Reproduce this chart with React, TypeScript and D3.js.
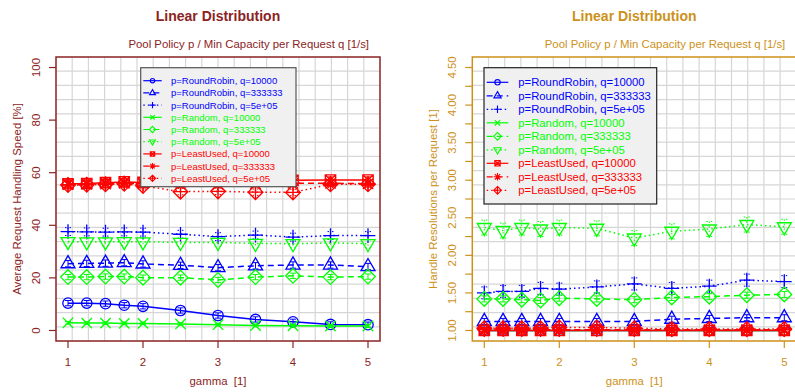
import React from "react";
import * as d3 from "d3";

const gamma = [1, 1.25, 1.5, 1.75, 2, 2.5, 3, 3.5, 4, 4.5, 5];

const seriesLabels = [
  "p=RoundRobin, q=10000",
  "p=RoundRobin, q=333333",
  "p=RoundRobin, q=5e+05",
  "p=Random, q=10000",
  "p=Random, q=333333",
  "p=Random, q=5e+05",
  "p=LeastUsed, q=10000",
  "p=LeastUsed, q=333333",
  "p=LeastUsed, q=5e+05",
];
const policyColors = ["#0000ff", "#00ff00", "#ff0000"];
const qDashes = ["", "6,4", "1.5,3"];

// left panel: average request handling speed [%]
const speedRR10000 = [10.4, 10.4, 10.2, 9.6, 9.2, 7.6, 5.7, 4.2, 3.3, 2.3, 2.2];
const speedRR333333 = [25.4, 25.5, 25.6, 25.8, 25.3, 24.8, 23.9, 24.6, 24.9, 24.9, 24.3];
const speedRR5e5 = [37.6, 37.5, 37.4, 37.5, 37.4, 36.6, 35.7, 36.3, 35.5, 36.1, 36.1];
const speedRand10000 = [2.9, 2.8, 2.8, 2.7, 2.7, 2.5, 2.2, 1.9, 1.8, 1.7, 1.7];
const speedRand333333 = [20.3, 20.3, 20.5, 20.5, 20.1, 20.1, 19.2, 20.3, 20.8, 20.3, 20.5];
const speedRand5e5 = [33.8, 33.7, 33.7, 33.8, 33.7, 33.5, 33.5, 33.1, 33.0, 33.3, 33.0];
const speedLU10000 = [55.8, 55.9, 56.2, 56.5, 56.3, 56.6, 56.8, 57.0, 57.1, 57.2, 57.2];
const speedLU333333 = [55.5, 55.6, 55.7, 56.0, 55.8, 55.5, 55.6, 55.8, 56.0, 56.0, 55.8];
const speedLU5e5 = [55.3, 55.4, 55.6, 55.8, 55.0, 52.8, 52.9, 52.6, 52.5, 55.6, 55.6];
const speedErr = [1.0, 1.2, 1.5, 0.5, 1.0, 1.5, 1.2, 1.2, 1.2];

// right panel: handle resolutions per request [1]
const resRR10000 = [1.0, 1.0, 1.0, 1.0, 1.0, 1.0, 1.0, 1.0, 1.0, 1.0, 1.0];
const resRR333333 = [1.12, 1.12, 1.12, 1.12, 1.12, 1.12, 1.12, 1.15, 1.16, 1.17, 1.17];
const resRR5e5 = [1.5, 1.52, 1.52, 1.56, 1.55, 1.58, 1.62, 1.56, 1.59, 1.67, 1.65];
const resRand10000 = [1.0, 1.0, 1.0, 1.0, 1.0, 1.0, 1.0, 1.0, 1.0, 1.0, 1.0];
const resRand333333 = [1.42, 1.42, 1.41, 1.4, 1.43, 1.42, 1.41, 1.44, 1.45, 1.47, 1.48];
const resRand5e5 = [2.37, 2.33, 2.37, 2.35, 2.37, 2.36, 2.23, 2.32, 2.35, 2.41, 2.38];
const resLU10000 = [1.0, 1.0, 1.0, 1.0, 1.0, 1.0, 1.0, 1.0, 1.0, 1.0, 1.0];
const resLU333333 = [1.01, 1.01, 1.01, 1.01, 1.01, 1.01, 1.01, 1.01, 1.01, 1.01, 1.01];
const resLU5e5 = [1.03, 1.03, 1.03, 1.03, 1.04, 1.04, 1.03, 1.02, 1.02, 1.02, 1.02];
const resErr = [0.02, 0.04, 0.08, 0.02, 0.04, 0.1, 0.02, 0.03, 0.04];

const leftTicks = [0, 20, 40, 60, 80, 100];
const rightTicks = [1, 1.25, 1.5, 1.75, 2, 2.25, 2.5, 2.75, 3, 3.25, 3.5, 3.75, 4, 4.25, 4.5];
const xTicks = [1, 2, 3, 4, 5];

const FONT = "'Liberation Sans', Arial, Helvetica, sans-serif";

function Marker({ pch, cx, cy, r, color, sw }: any) {
  const s2 = Math.SQRT2 * r;
  const st = { fill: "none", stroke: color, strokeWidth: sw };
  const t = 1.555 * r, h = 1.347 * r, b = 0.778 * r;
  const plus = (a: number) => `M${cx - a},${cy}H${cx + a}M${cx},${cy - a}V${cy + a}`;
  const cross = (a: number) => `M${cx - a},${cy - a}L${cx + a},${cy + a}M${cx - a},${cy + a}L${cx + a},${cy - a}`;
  const diamond = (a: number) => `M${cx},${cy - a}L${cx + a},${cy}L${cx},${cy + a}L${cx - a},${cy}Z`;
  switch (pch) {
    case 1:
      return <circle cx={cx} cy={cy} r={r} {...st} />;
    case 2:
      return <path d={`M${cx},${cy - t}L${cx + h},${cy + b}L${cx - h},${cy + b}Z`} {...st} />;
    case 3:
      return <path d={plus(s2)} {...st} />;
    case 4:
      return <path d={cross(r)} {...st} />;
    case 5:
      return <path d={diamond(s2)} {...st} />;
    case 6:
      return <path d={`M${cx},${cy + t}L${cx + h},${cy - b}L${cx - h},${cy - b}Z`} {...st} />;
    case 7:
      return <path d={`M${cx - r},${cy - r}H${cx + r}V${cy + r}H${cx - r}Z` + cross(r)} {...st} />;
    case 8:
      return <path d={cross(r) + plus(s2)} {...st} />;
    default:
      return <path d={diamond(s2) + plus(s2)} {...st} />;
  }
}

function Panel(props: any) {
  const { x0, x1, theme, yDomain, ticks, tickLabel, fmt, yLabel, series, errs, legend } = props;
  const y0 = 57;
  const y1 = 341;
  const x = d3.scaleLinear().domain([0.84, 5.16]).range([x0, x1]);
  const y = d3.scaleLinear().domain(yDomain).range([y1, y0]);
  const line = d3
    .line<number>()
    .x((_, i) => x(gamma[i]))
    .y((d) => y(d));
  const gw = (x1 - x0) / 20;
  const gh = (y1 - y0) / 20;
  const mid = (x0 + x1) / 2;

  return (
    <g fontFamily={FONT}>
      <text x={mid} y={20.5} textAnchor="middle" fontSize={14} fontWeight="bold" fill={theme}>
        Linear Distribution
      </text>
      <text x={x(5) + 1} y={47.5} textAnchor="end" fontSize={11.4} fill={theme}>
        Pool Policy p / Min Capacity per Request q [1/s]
      </text>

      {d3.range(1, 20).map((i) => (
        <line key={"gv" + i} x1={x0 + i * gw} x2={x0 + i * gw} y1={y0} y2={y1} stroke="#d6d6d6" strokeWidth={1.2} />
      ))}
      {d3.range(1, 20).map((i) => (
        <line key={"gh" + i} x1={x0} x2={x1} y1={y0 + i * gh} y2={y0 + i * gh} stroke="#d6d6d6" strokeWidth={1.2} />
      ))}

      {series.map((vals: number[], s: number) => {
        const color = policyColors[Math.floor(s / 3)];
        const dash = qDashes[s % 3];
        return (
          <g key={"s" + s}>
            <path d={line(vals) || ""} fill="none" stroke={color} strokeWidth={1.5} strokeDasharray={dash} />
            {vals.map((v, i) => {
              const cx = x(gamma[i]);
              const ya = y(v + errs[s]);
              const yb = y(v - errs[s]);
              return (
                <g key={i}>
                  <path
                    d={`M${cx},${ya}V${yb}M${cx - 3},${ya}H${cx + 3}M${cx - 3},${yb}H${cx + 3}`}
                    stroke={color}
                    strokeWidth={1}
                    strokeDasharray={dash}
                    fill="none"
                  />
                  <Marker pch={s + 1} cx={cx} cy={y(v)} r={5.2} color={color} sw={1.3} />
                </g>
              );
            })}
          </g>
        );
      })}

      <rect x={x0} y={y0} width={x1 - x0} height={y1 - y0} fill="none" stroke={theme} strokeWidth={1.5} />

      {xTicks.map((t) => (
        <g key={"xt" + t}>
          <line x1={x(t)} x2={x(t)} y1={y1} y2={y1 + 7} stroke={theme} strokeWidth={1.2} />
          <text x={x(t)} y={366} textAnchor="middle" fontSize={11.4} fill={theme}>
            {t}
          </text>
        </g>
      ))}
      <text x={mid} y={385} textAnchor="middle" fontSize={11.4} fill={theme}>
        {"gamma\u00a0 [1]"}
      </text>

      {ticks.map((t: number) => (
        <g key={"yt" + t}>
          <line x1={x0 - 7} x2={x0} y1={y(t)} y2={y(t)} stroke={theme} strokeWidth={1.2} />
          {tickLabel(t) && (
            <text
              transform={`translate(${x0 - 16},${y(t)}) rotate(-90)`}
              textAnchor="middle"
              fontSize={11.4}
              fill={theme}
            >
              {fmt(t)}
            </text>
          )}
        </g>
      ))}
      <text
        transform={`translate(${x0 - 35.5},${(y0 + y1) / 2}) rotate(-90)`}
        textAnchor="middle"
        fontSize={11.4}
        fill={theme}
      >
        {yLabel}
      </text>

      <rect
        x={legend.x}
        y={legend.y}
        width={legend.w}
        height={legend.h}
        fill="#f0f0f0"
        stroke={legend.border}
        strokeWidth={1.2}
      />
      {seriesLabels.map((label, s) => {
        const color = policyColors[Math.floor(s / 3)];
        const cy = legend.firstRow + s * legend.rowH;
        const lx = (legend.lineX0 + legend.lineX1) / 2;
        return (
          <g key={"lg" + s}>
            <line
              x1={legend.lineX0}
              x2={legend.lineX1}
              y1={cy}
              y2={cy}
              stroke={color}
              strokeWidth={1.2}
              strokeDasharray={qDashes[s % 3]}
            />
            <Marker pch={s + 1} cx={lx} cy={cy} r={legend.symR} color={color} sw={1.1} />
            <text x={legend.textX} y={cy + legend.fontSize * 0.36} fontSize={legend.fontSize} fill={color}>
              {label}
            </text>
          </g>
        );
      })}
    </g>
  );
}

export default function App() {
  return (
    <svg
      width={795}
      height={392}
      style={{ position: "absolute", left: 0, top: 0, background: "#ffffff" }}
    >
      <Panel
        x0={56}
        x1={380}
        theme="#8b2323"
        yDomain={[-4, 104]}
        ticks={leftTicks}
        tickLabel={() => true}
        fmt={(t: number) => String(t)}
        yLabel="Average Request Handling Speed [%]"
        series={[
          speedRR10000, speedRR333333, speedRR5e5,
          speedRand10000, speedRand333333, speedRand5e5,
          speedLU10000, speedLU333333, speedLU5e5,
        ]}
        errs={speedErr}
        legend={{
          x: 140.7, y: 67.7, w: 155.3, h: 119,
          firstRow: 80.7, rowH: 12.2, fontSize: 9.5, symR: 2.2,
          lineX0: 143.3, lineX1: 161.7, textX: 171, border: "#555555",
        }}
      />
      <Panel
        x0={472.3}
        x1={796.3}
        theme="#cd9119"
        yDomain={[0.86, 4.64]}
        ticks={rightTicks}
        tickLabel={(t: number) => Math.abs(t * 2 - Math.round(t * 2)) < 1e-9}
        fmt={d3.format(".2f")}
        yLabel="Handle Resolutions per Request [1]"
        series={[
          resRR10000, resRR333333, resRR5e5,
          resRand10000, resRand333333, resRand5e5,
          resLU10000, resLU333333, resLU5e5,
        ]}
        errs={resErr}
        legend={{
          x: 484, y: 67.7, w: 172.7, h: 136.3,
          firstRow: 82.3, rowH: 13.5, fontSize: 11.3, symR: 2.7,
          lineX0: 486.7, lineX1: 508.3, textX: 518.3, border: "#222222",
        }}
      />
    </svg>
  );
}
